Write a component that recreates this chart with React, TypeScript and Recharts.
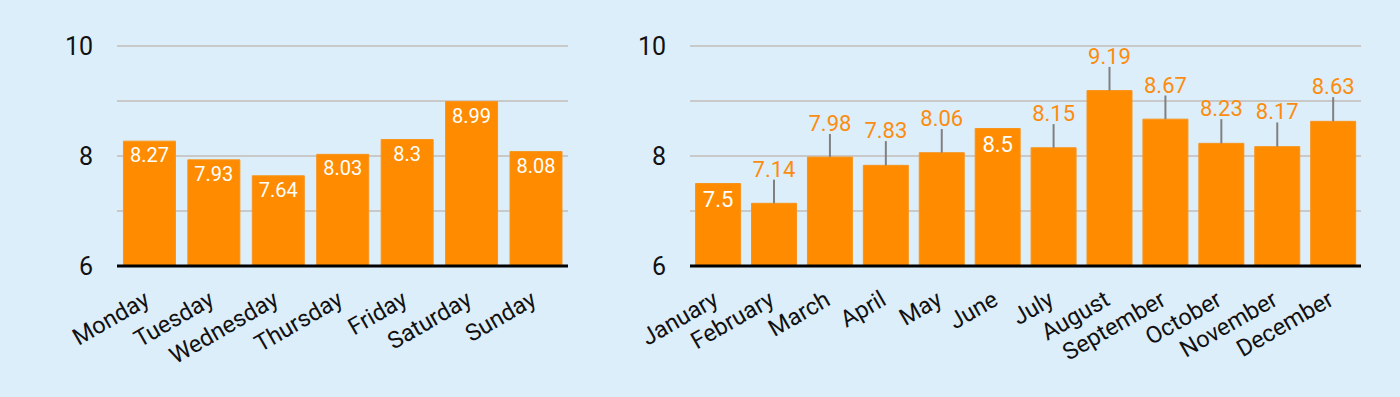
import React from 'react';
import { BarChart, Bar, XAxis, YAxis, CartesianGrid, ErrorBar, LabelList } from 'recharts';

const days = ['Monday', 'Tuesday', 'Wednesday', 'Thursday', 'Friday', 'Saturday', 'Sunday'];
const dayValues = [8.27, 7.93, 7.64, 8.03, 8.3, 8.99, 8.08];

const months = ['January', 'February', 'March', 'April', 'May', 'June', 'July', 'August', 'September', 'October', 'November', 'December'];
const monthValues = [7.5, 7.14, 7.98, 7.83, 8.06, 8.5, 8.15, 9.19, 8.67, 8.23, 8.17, 8.63];
const monthErrors: (number | null)[] = [null, 0.43, 0.42, 0.44, 0.43, null, 0.43, 0.43, 0.43, 0.44, 0.44, 0.44];

const yTicks = [6, 7, 8, 9, 10];
const yTickLabels: Record<number, string> = { 6: '6', 7: '', 8: '8', 9: '', 10: '10' };
const yDomain = [6, 10];

const dayData = days.map((d, i) => ({ name: d, value: dayValues[i] }));
const monthData = months.map((m, i) => ({
  name: m,
  value: monthValues[i],
  err: monthErrors[i] == null ? undefined : [0, monthErrors[i] as number],
}));

const FONT = 'Roboto, "Noto Sans", sans-serif';
const BG = '#DDEEFB';
const ORANGE = '#FF8C00';
const LABEL_ORANGE = '#FB8C0F';

const AngledTick = (props: any) => {
  const { x, y, payload } = props;
  const ax = x + 2;
  const ay = y + 30;
  return (
    <text
      x={ax}
      y={ay}
      transform={`rotate(-30 ${ax} ${ay})`}
      textAnchor="end"
      fontSize={23.5}
      fontFamily={FONT}
      fill="#111"
    >
      {payload.value}
    </text>
  );
};

const getBox = (p: any) => {
  const vb = p.viewBox && p.viewBox.width != null ? p.viewBox : p;
  return { x: Number(vb.x), y: Number(vb.y), width: Number(vb.width), height: Number(vb.height) };
};

const DayLabel = (p: any) => {
  const { x, y, width } = getBox(p);
  return (
    <text x={x + width / 2} y={y + 21} textAnchor="middle" fontSize={20} fontFamily={FONT} fill="#fff">
      {p.value}
    </text>
  );
};

const MonthLabel = (p: any) => {
  const { x, y, width, height } = getBox(p);
  const idx = p.index;
  const err = monthErrors[idx];
  const value = Number(p.value);
  if (err == null) {
    return (
      <text x={x + width / 2} y={y + 23} textAnchor="middle" fontSize={22} fontFamily={FONT} fill="#fff">
        {p.value}
      </text>
    );
  }
  const pxPerUnit = height / (value - yDomain[0]);
  const errPx = err * pxPerUnit;
  return (
    <text x={x + width / 2} y={y - errPx - 3} textAnchor="middle" fontSize={22} fontFamily={FONT} fill={LABEL_ORANGE}>
      {p.value}
    </text>
  );
};

const yTick = { fontSize: 25, fontFamily: FONT, fill: '#111' };

export default function App() {
  return (
    <div style={{ position: 'absolute', left: 0, top: 0, width: 1400, height: 397, background: BG, overflow: 'hidden' }}>
      <div style={{ position: 'absolute', left: 0, top: 0 }}>
        <BarChart width={600} height={397} data={dayData} margin={{ top: 46, right: 32, bottom: 0, left: 0 }} barCategoryGap="10%">
          <CartesianGrid horizontal vertical={false} stroke="#C9C9C9" strokeWidth={2} />
          <XAxis dataKey="name" height={131} tickLine={false} axisLine={{ stroke: '#000', strokeWidth: 3 }} tick={<AngledTick />} interval={0} />
          <YAxis
            width={117}
            domain={yDomain}
            ticks={yTicks}
            tickFormatter={(v: number) => yTickLabels[v]}
            tickLine={false}
            axisLine={false}
            tickSize={0}
            tickMargin={24}
            tick={yTick}
          />
          <Bar dataKey="value" fill={ORANGE} stroke="#F7941D" strokeWidth={1} isAnimationActive={false}>
            <LabelList dataKey="value" content={<DayLabel />} />
          </Bar>
        </BarChart>
      </div>
      <div style={{ position: 'absolute', left: 600, top: 0 }}>
        <BarChart width={800} height={397} data={monthData} margin={{ top: 46, right: 39, bottom: 0, left: 0 }} barCategoryGap="10%">
          <CartesianGrid horizontal vertical={false} stroke="#C9C9C9" strokeWidth={2} />
          <XAxis dataKey="name" height={131} tickLine={false} axisLine={{ stroke: '#000', strokeWidth: 3 }} tick={<AngledTick />} interval={0} />
          <YAxis
            width={90}
            domain={yDomain}
            ticks={yTicks}
            tickFormatter={(v: number) => yTickLabels[v]}
            tickLine={false}
            axisLine={false}
            tickSize={0}
            tickMargin={24}
            tick={yTick}
          />
          <Bar dataKey="value" fill={ORANGE} stroke="#F7941D" strokeWidth={1} isAnimationActive={false}>
            <ErrorBar dataKey="err" direction="y" width={0} stroke="#808080" strokeWidth={2} />
            <LabelList dataKey="value" content={<MonthLabel />} />
          </Bar>
        </BarChart>
      </div>
    </div>
  );
}
